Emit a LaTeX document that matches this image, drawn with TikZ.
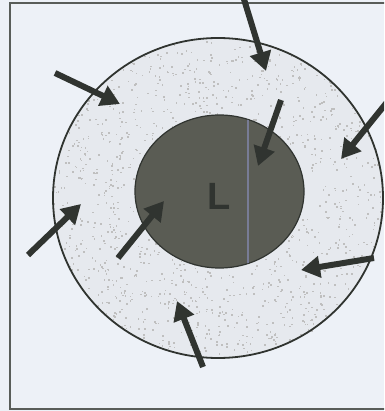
\documentclass[tikz,border=0pt]{standalone}
\usepackage{fontspec}
\setsansfont{Liberation Sans}
\usetikzlibrary{arrows.meta}
\definecolor{bg}{RGB}{237,241,247}
\definecolor{ring}{RGB}{230,233,238}
\definecolor{core}{RGB}{90,92,84}
\definecolor{ink}{RGB}{48,52,48}
\tikzset{
  arr/.style={ink, line width=6pt, -{Triangle[length=19pt,width=21pt]}},
  frame/.style={draw=ink!80, line width=1.2pt},
}
\begin{document}
\begin{tikzpicture}[x=1pt,y=-1pt]
\useasboundingbox (0,0) rectangle (384,411);
\clip (0,0) rectangle (384,411);
\fill[bg] (0,0) rectangle (384,411);
\draw[frame] (386,3) -- (10,3) -- (10,409) -- (386,409);
% outer ring
\fill[ring] (218,198) ellipse [x radius=165, y radius=160];
\pgfmathsetseed{7}
\foreach \i in {1,...,1400}{
  \pgfmathsetmacro{\ang}{rnd*360}
  \pgfmathsetmacro{\rr}{sqrt(rnd)}
  \fill[gray!50] ({218+165*\rr*cos(\ang)},{198+160*\rr*sin(\ang)}) rectangle ++(1.6,1.6);
}
\draw[ink, line width=1.8pt] (218,198) ellipse [x radius=165, y radius=160];
% core
\fill[core, draw=ink, line width=1.2pt] (219.5,191.5) ellipse [x radius=84.5, y radius=76.5];
\begin{scope}
\clip (219.5,191.5) ellipse [x radius=84, y radius=76];
\draw[color={rgb,255:red,120;green,124;blue,150}, line width=1.5pt] (248,110) -- (248,275);
\end{scope}
\node[font=\sffamily\bfseries\fontsize{38}{38}\selectfont, text=ink, inner sep=0] (L) at (219,196) {L};
% arrows (tail -> head)
\coordinate (t1) at (243,-4);  \coordinate (h1) at (266,71);
\coordinate (t2) at (55,73);   \coordinate (h2) at (120,104);
\coordinate (t3) at (281,100); \coordinate (h3) at (258,166);
\coordinate (t4) at (392,96);  \coordinate (h4) at (341,159);
\coordinate (t5) at (28,255);  \coordinate (h5) at (81,204);
\coordinate (t6) at (118,258); \coordinate (h6) at (164,201);
\coordinate (t7) at (374,258); \coordinate (h7) at (301,270);
\coordinate (t8) at (203,367); \coordinate (h8) at (177,301);
\foreach \k in {1,...,8}{ \draw[arr] (t\k) -- (h\k); }
\end{tikzpicture}
\end{document}
